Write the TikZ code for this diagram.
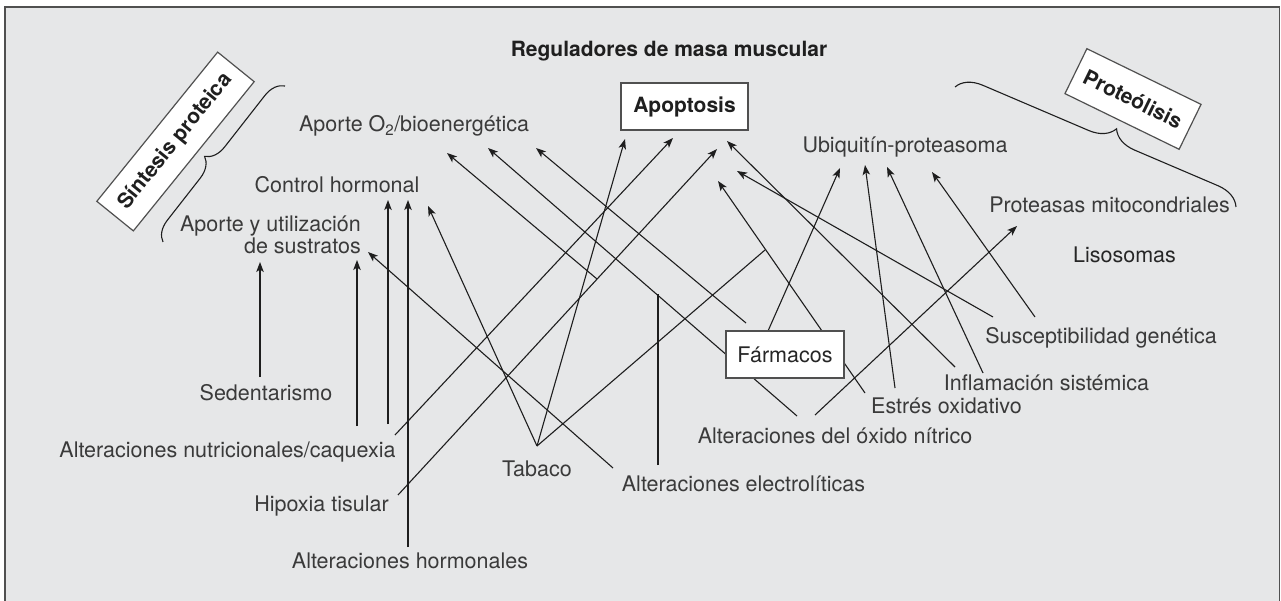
\documentclass[tikz,border=0pt]{standalone}
\usepackage{fontspec}
\setmainfont{TeX Gyre Heros}
\usetikzlibrary{arrows.meta,decorations.pathreplacing}
\definecolor{bggray}{HTML}{E6E7E8}
\definecolor{txtgray}{HTML}{3A3A3A}
\definecolor{linegray}{HTML}{1E1E1E}
\definecolor{framegray}{HTML}{505050}
\begin{document}
\begin{tikzpicture}[x=1pt,y=-1pt,
  lbl/.style={font=\fontsize{21.5}{20}\selectfont, text=txtgray, inner sep=0pt},
  bld/.style={font=\fontsize{21}{24}\selectfont\bfseries, text=black!88, inner sep=0pt},
  boxed/.style={draw=framegray, fill=white, line width=1.2pt, inner sep=0pt},
  conn/.style={draw=linegray, line width=1.1pt},
  arr/.style={conn, -{Stealth[length=10pt,width=7.5pt,inset=2.5pt]}},
  bracestyle/.style={draw=linegray, line width=1.1pt, decorate}
]
\useasboundingbox (0,0) rectangle (1281,601);
\fill[bggray] (5,7) rectangle (1279.5,601);
\draw[framegray, line width=1.5pt] (5,601) -- (5,7) -- (1279.5,7) -- (1279.5,601);

% ---- target points (arrow tips) ----
\coordinate (ayuA) at (260,262);
\coordinate (ayuB) at (357,260);
\coordinate (ayuC) at (368,252);
\coordinate (chA) at (388,200);
\coordinate (chB) at (408,200);
\coordinate (chC) at (428,206);
\coordinate (aoA) at (447,153);
\coordinate (aoB) at (488,148);
\coordinate (aoC) at (536,148);
\coordinate (apA) at (625,139);
\coordinate (apB) at (673,138);
\coordinate (apC) at (717,149);
\coordinate (apD) at (727,141);
\coordinate (apE) at (737,171);
\coordinate (apF) at (718,181);
\coordinate (ubA) at (840,168);
\coordinate (ubB) at (865,165);
\coordinate (ubC) at (887,167);
\coordinate (ubD) at (932,172);
\coordinate (pmA) at (1017,226);

% ---- source points ----
\coordinate (sedS) at (260,377);
\coordinate (caqS1) at (357,426);
\coordinate (caqS2) at (388,424);
\coordinate (caqS3) at (395,435);
\coordinate (horS) at (408,547);
\coordinate (hipS) at (398,495);
\coordinate (hipJ) at (597,279);
\coordinate (tabS) at (537,446);
\coordinate (tabJ) at (765,250);
\coordinate (eleS1) at (613,468);
\coordinate (eleS2) at (658,465);
\coordinate (eleJ) at (658,294);
\coordinate (oxS1) at (797,416);
\coordinate (oxS2) at (815,415);
\coordinate (farS1) at (746,323);
\coordinate (farS2) at (768,331);
\coordinate (estS1) at (865,393);
\coordinate (estS2) at (895,388);
\coordinate (infS1) at (955,367);
\coordinate (infS2) at (983,373);
\coordinate (susS1) at (993,317);
\coordinate (susS2) at (1035,317);

% ---- connectors ----
\draw[arr] (sedS) -- (ayuA);
\draw[arr] (caqS1) -- (ayuB);
\draw[arr] (caqS2) -- (chA);
\draw[arr] (caqS3) -- (apB);
\draw[arr] (horS) -- (chB);
\draw[arr] (hipS) -- (apC);
\draw[arr] (hipJ) -- (aoA);
\draw[arr] (tabS) -- (chC);
\draw[arr] (tabS) -- (apA);
\draw[conn] (tabS) -- (tabJ);
\draw[arr] (eleS1) -- (ayuC);
\draw[conn] (eleS2) -- (eleJ);
\draw[arr] (estS1) -- (apF);
\draw[arr] (oxS1) -- (aoB);
\draw[arr] (oxS2) -- (pmA);
\draw[arr] (farS1) -- (aoC);
\draw[arr] (farS2) -- (ubA);
\draw[arr] (estS2) -- (ubB);
\draw[arr] (infS1) -- (apD);
\draw[arr] (infS2) -- (ubC);
\draw[arr] (susS1) -- (apE);
\draw[arr] (susS2) -- (ubD);

% ---- braces ----
\coordinate (brL1) at (163,242);
\coordinate (brL2) at (285,86);
\coordinate (brR1) at (955,87);
\coordinate (brR2) at (1236,207);
\draw[bracestyle, decoration={brace, amplitude=20pt, aspect=0.47}] (brL1) -- (brL2);
\draw[bracestyle, decoration={brace, amplitude=25pt, aspect=0.54}] (brR1) -- (brR2);

% ---- boxes ----
\node[boxed, bld, minimum width=192pt, minimum height=47pt, rotate=51] (sint) at (175.5,141.5) {Síntesis proteica};
\node[boxed, bld, minimum width=127pt, minimum height=50pt, rotate=-26] (prot) at (1133,99) {Proteólisis};
\node[boxed, bld, minimum width=127pt, minimum height=47pt] (apop) at (684.5,106.5) {Apoptosis};
\node[boxed, lbl, text=black!85, minimum width=118pt, minimum height=47pt] (farm) at (785,354.5) {Fármacos};

% ---- labels ----
\node[bld, anchor=base] (title) at (669,57) {Reguladores de masa muscular};
\node[lbl, anchor=base] (aporteo) at (414,132) {Aporte O\textsubscript{2}/bioenergética};
\node[lbl, anchor=base] (ctrl) at (337,193) {Control hormonal};
\node[lbl, anchor=north east, align=right] (ayu) at (361,216) {Aporte y utilización\\de sustratos};
\node[lbl, anchor=base] (ubiq) at (905,153) {Ubiquitín-proteasoma};
\node[lbl, anchor=base] (proteas) at (1109.5,213) {Proteasas mitocondriales};
\node[lbl, text=black!85, anchor=base] (liso) at (1124.5,263) {Lisosomas};
\node[lbl, anchor=base] (sed) at (266,400) {Sedentarismo};
\node[lbl, anchor=base] (caq) at (227.5,457) {Alteraciones nutricionales/caquexia};
\node[lbl, anchor=base] (hip) at (321.5,511) {Hipoxia tisular};
\node[lbl, anchor=base] (horm) at (410,568) {Alteraciones hormonales};
\node[lbl, anchor=base] (tab) at (537,476) {Tabaco};
\node[lbl, anchor=base] (elec) at (743.5,491) {Alteraciones electrolíticas};
\node[lbl, anchor=base] (oxid) at (835,443) {Alteraciones del óxido nítrico};
\node[lbl, anchor=base] (estr) at (946.5,413) {Estrés oxidativo};
\node[lbl, anchor=base] (infl) at (1046.5,390) {Inflamación sistémica};
\node[lbl, anchor=base] (susc) at (1101,343) {Susceptibilidad genética};
\end{tikzpicture}
\end{document}
